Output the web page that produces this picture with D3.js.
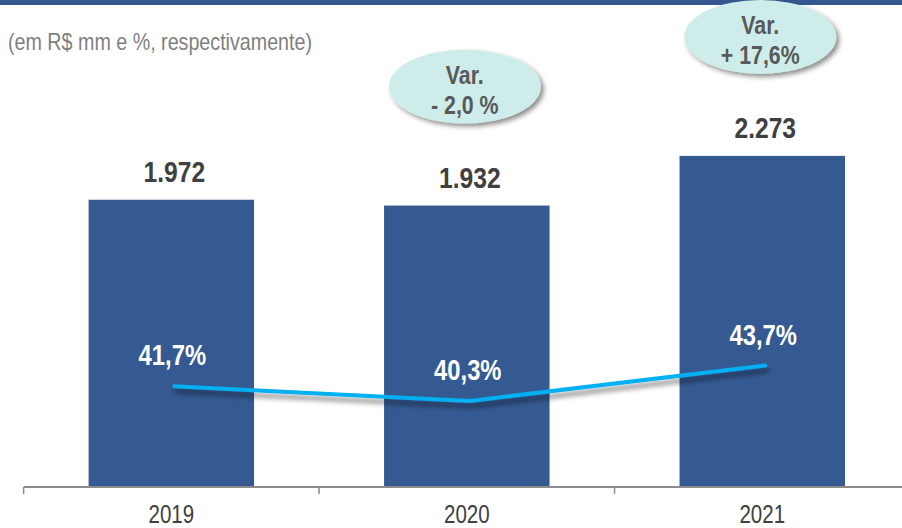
<!DOCTYPE html>
<html>
<head>
<meta charset="utf-8">
<script src="https://cdn.jsdelivr.net/npm/d3@7"></script>
<style>
  body { margin: 0; background: #fff; }
  svg { display: block; font-family: "Liberation Sans", Arial, sans-serif; }
</style>
</head>
<body>
<svg width="902" height="528"></svg>
<script>
// data
const years = ["2019", "2020", "2021"];
const receita = [1972, 1932, 2273];
const receitaLabels = ["1.972", "1.932", "2.273"];
const margem = [41.7, 40.3, 43.7];
const margemLabels = ["41,7%", "40,3%", "43,7%"];
const variacoes = [null, ["Var.", "- 2,0 %"], ["Var.", "+ 17,6%"]];

const svg = d3.select("svg");
const W = 902;

const defs = svg.append("defs");
defs.append("filter").attr("id", "lineShadow")
  .attr("x", "-10%").attr("y", "-50%").attr("width", "120%").attr("height", "250%")
  .append("feDropShadow")
  .attr("dx", 2).attr("dy", 5).attr("stdDeviation", 2.5)
  .attr("flood-color", "#000").attr("flood-opacity", 0.45);
defs.append("filter").attr("id", "bubbleShadow")
  .attr("x", "-20%").attr("y", "-20%").attr("width", "140%").attr("height", "150%")
  .append("feDropShadow")
  .attr("dx", 3).attr("dy", 3).attr("stdDeviation", 2.5)
  .attr("flood-color", "#000").attr("flood-opacity", 0.45);

// top band
svg.append("rect").attr("x", 0).attr("y", 0).attr("width", W).attr("height", 5).attr("fill", "#34578f");

// subtitle
svg.append("text")
  .attr("x", 8).attr("y", 50)
  .attr("font-size", 24).attr("fill", "#7f7f7f")
  .text("(em R$ mm e %, respectivamente)");

// scales
const x = d3.scaleBand().domain(years).range([23.6, 910]).paddingInner(0.44).paddingOuter(0.22);
const y = d3.scaleLinear().domain([0, 3000]).range([487, 50]);
const yPct = d3.scaleLinear().domain([35, 50]).range([456, 300]);
const cx = (d) => x(d) + x.bandwidth() / 2;

// bars
svg.append("g").selectAll("rect")
  .data(years)
  .join("rect")
  .attr("x", (d) => x(d))
  .attr("y", (d, i) => y(receita[i]))
  .attr("width", x.bandwidth())
  .attr("height", (d, i) => y(0) - y(receita[i]))
  .attr("fill", "#355991");

// value labels
svg.append("g").selectAll("text")
  .data(years)
  .join("text")
  .attr("x", (d) => cx(d) + 3)
  .attr("y", (d, i) => y(receita[i]) - 18)
  .attr("text-anchor", "middle")
  .attr("font-size", 30).attr("font-weight", "bold").attr("fill", "#404040")
  .text((d, i) => receitaLabels[i]);

// axis
const step = x.step();
const axis = svg.append("g").attr("class", "axis");
axis.append("line")
  .attr("x1", x(years[0]) - step * x.paddingOuter()).attr("x2", W)
  .attr("y1", y(0)).attr("y2", y(0))
  .attr("stroke", "#8c8c8c").attr("stroke-width", 2);
axis.selectAll("line.tick")
  .data(years)
  .join("line")
  .attr("class", "tick")
  .attr("x1", (d) => x(d) - step * x.paddingOuter())
  .attr("x2", (d) => x(d) - step * x.paddingOuter())
  .attr("y1", y(0)).attr("y2", y(0) + 7)
  .attr("stroke", "#8c8c8c").attr("stroke-width", 1.5);

svg.append("g")
  .attr("transform", `translate(0,${y(0)})`)
  .call(d3.axisBottom(x).tickSize(0).tickPadding(18))
  .call((g) => g.select(".domain").remove())
  .selectAll("text")
  .attr("font-size", 25).attr("fill", "#404040").attr("font-family", null);

// margin line
const line = d3.line().x((d, i) => cx(years[i]) + 3).y((d) => yPct(d));
svg.append("path")
  .datum(margem)
  .attr("d", line)
  .attr("fill", "none")
  .attr("stroke", "#00b0f0")
  .attr("stroke-width", 4)
  .attr("stroke-linecap", "round")
  .attr("filter", "url(#lineShadow)");

svg.append("g").selectAll("text")
  .data(margem)
  .join("text")
  .attr("x", (d, i) => cx(years[i]) + 1)
  .attr("y", (d) => yPct(d) - 21)
  .attr("text-anchor", "middle")
  .attr("font-size", 29).attr("font-weight", "bold").attr("fill", "#fff")
  .text((d, i) => margemLabels[i]);

// variation bubbles
const bubbles = svg.append("g").selectAll("g")
  .data(years.filter((d, i) => variacoes[i]))
  .join("g")
  .attr("transform", (d) => {
    const i = years.indexOf(d);
    return `translate(${cx(d) - 2},${y(receita[i]) - 119})`;
  });
bubbles.append("ellipse")
  .attr("rx", 76).attr("ry", 37)
  .attr("fill", "#cdecea")
  .attr("filter", "url(#bubbleShadow)");
bubbles.each(function (d) {
  const v = variacoes[years.indexOf(d)];
  d3.select(this).selectAll("text")
    .data(v)
    .join("text")
    .attr("text-anchor", "middle")
    .attr("y", (t, j) => j * 30 - 3)
    .attr("font-size", 26).attr("font-weight", "bold").attr("fill", "#595959")
    .text((t) => t);
});

// narrow look (original uses Arial Narrow): squeeze glyphs, keep centring
svg.selectAll("text").each(function () {
  const t = d3.select(this);
  const w = this.getComputedTextLength();
  const nw = w * 0.82;
  if (t.attr("text-anchor") === "middle" || this.closest(".tick")) {
    const x0 = +(t.attr("x") || 0);
    t.attr("text-anchor", "start").attr("x", x0 - nw / 2);
  }
  t.attr("textLength", nw).attr("lengthAdjust", "spacingAndGlyphs");
});
</script>
</body>
</html>
